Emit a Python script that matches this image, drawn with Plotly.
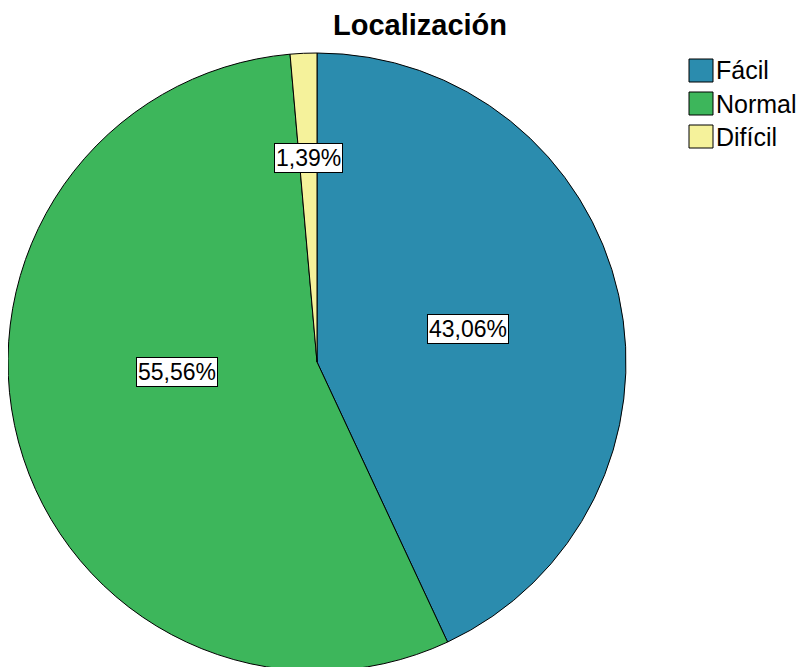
import math
import plotly.graph_objects as go

# data
categorias = ["Fácil", "Normal", "Difícil"]
porcentajes = [43.06, 55.56, 1.39]
colores = ["#2b8cae", "#3db65b", "#f5f29b"]
etiquetas = ["43,06%", "55,56%", "1,39%"]

# page body has an 8px margin, so the figure is sized to fill the rest
W, H = 796, 667
FONT = "Arial, Liberation Sans"

# pie domain (paper fractions)
dom_x = [0, 618 / W]
dom_y = [1 - 663 / H, 1 - 45 / H]

fig = go.Figure(go.Pie(
    labels=categorias,
    values=porcentajes,
    marker=dict(colors=colores, line=dict(color="black", width=1)),
    sort=False,
    direction="clockwise",
    rotation=0,
    textinfo="none",
    hoverinfo="label+percent",
    showlegend=False,
    domain=dict(x=dom_x, y=dom_y),
))

# boxed percentage labels placed near slice mid-angles
cx = (dom_x[0] + dom_x[1]) / 2 * W
cy = (1 - (dom_y[0] + dom_y[1]) / 2) * H
R = min((dom_x[1] - dom_x[0]) * W, (dom_y[1] - dom_y[0]) * H) / 2
total = sum(porcentajes)
frac_r = [0.5, 0.453, 0.66]      # label distance as share of radius
ang_nudge = [0, 11, 0]            # degrees, SPSS places labels a bit off-centre
acum = 0
for v, txt, fr, dn in zip(porcentajes, etiquetas, frac_r, ang_nudge):
    mid = (acum + v / 2) / total * 2 * math.pi + math.radians(dn)
    acum += v
    px = cx + fr * R * math.sin(mid)
    py = cy - fr * R * math.cos(mid)
    fig.add_annotation(
        x=px / W, y=1 - py / H, xref="paper", yref="paper",
        xanchor="center", yanchor="middle",
        text=txt, showarrow=False,
        font=dict(family=FONT, size=23, color="black"),
        bgcolor="white", bordercolor="black", borderwidth=1, borderpad=1,
    )

# legend drawn as boxes + text, like the SPSS output
lx0, ly0, sw, sh, paso = 681, 51, 24, 23, 33
for i, (cat, col) in enumerate(zip(categorias, colores)):
    top = ly0 + i * paso
    fig.add_shape(type="rect", xref="paper", yref="paper",
                  x0=lx0 / W, x1=(lx0 + sw) / W,
                  y0=1 - (top + sh) / H, y1=1 - top / H,
                  fillcolor=col, line=dict(color="black", width=1))
    fig.add_annotation(x=(lx0 + sw + 1) / W, y=1 - (top + sh / 2) / H,
                       xref="paper", yref="paper", xanchor="left",
                       yanchor="middle", text=cat, showarrow=False,
                       font=dict(family=FONT, size=25, color="black"))

fig.update_layout(
    width=W, height=H,
    margin=dict(l=0, r=0, t=0, b=0),
    paper_bgcolor="white",
    font=dict(family=FONT, color="black"),
    title=dict(text="<b>Localización</b>", x=412 / W, xanchor="center",
               y=1 - 17 / H, yanchor="middle", font=dict(size=29)),
)

fig.write_html("out.html")
